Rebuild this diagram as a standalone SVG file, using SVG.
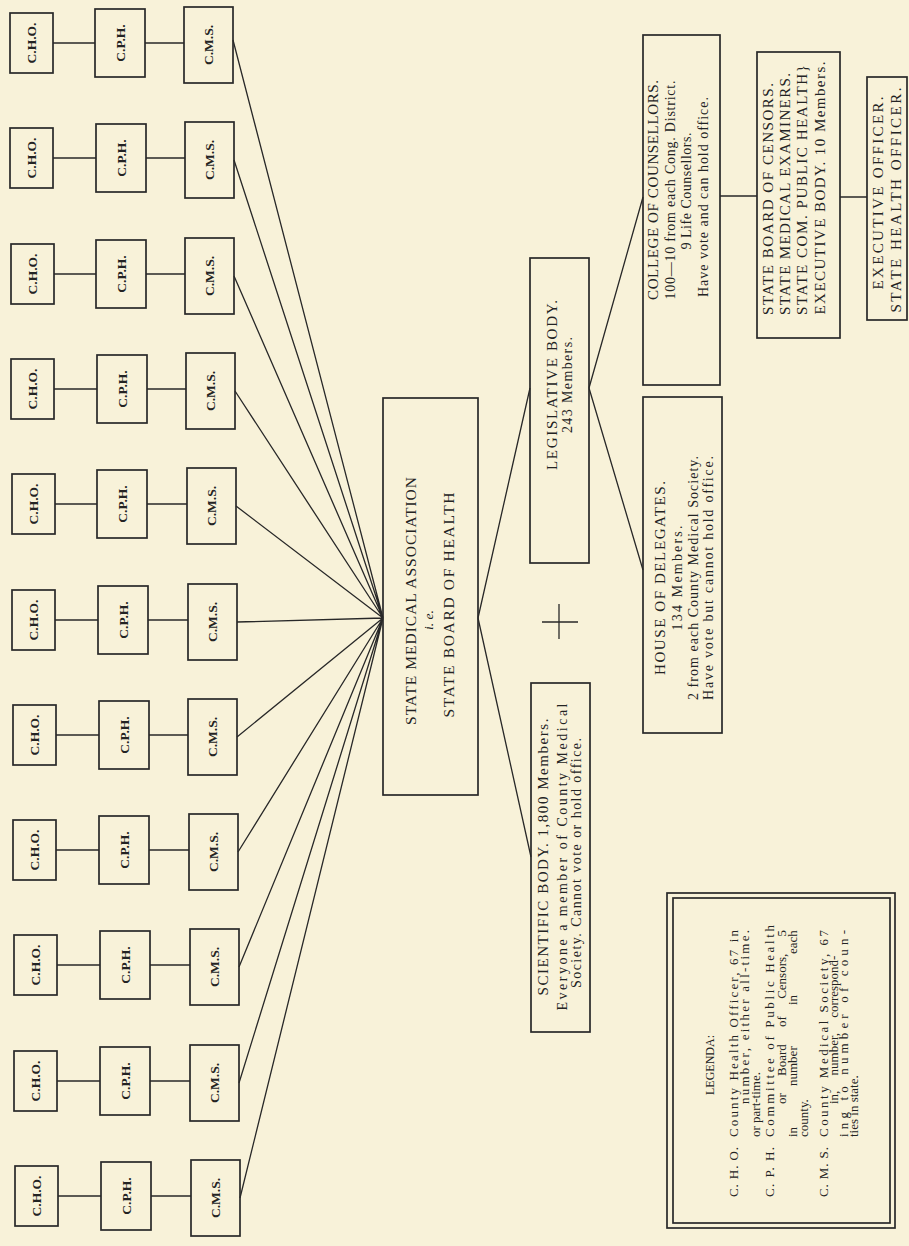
<svg xmlns="http://www.w3.org/2000/svg" width="909" height="1246" viewBox="0 0 909 1246">
<style>
.bg{fill:#f8f2d9}
.box{fill:none;stroke:#282828;stroke-width:1.7}
.ln{fill:none;stroke:#282828;stroke-width:1.3}
.t{font-family:"Liberation Serif","Times New Roman",serif;fill:#232323;dominant-baseline:central}
.m{text-anchor:middle}
.s{text-anchor:start}
.lab{font-size:13.5px;font-weight:bold}
.cap{font-size:15px}
.low{font-size:14px}
.lg{font-size:13px}
</style>
<rect class="bg" x="0" y="0" width="909" height="1246"/>
<g id="connectors">
<path class="ln" d="M53 43H95 M145 43H184 M53 158H96 M146 158H185 M54 274H96 M146 274H185 M54 389H97 M147 389H186 M55 504H97 M147 504H187 M55 620H98 M148 620H188 M56 735H99 M149 735H188 M56 850H99 M149 850H189 M57 965H100 M150 965H190 M57 1081H100 M150 1081H190 M58 1196H101 M151 1196H191"/>
<path class="ln" d="M233 40L383 618 M234 160L383 618 M234 276L383 618 M235 391L383 618 M236 506L383 618 M237 622L383 618 M237 737L383 618 M238 852L383 618 M239 967L383 618 M239 1083L383 618 M240 1198L383 618"/>
<path class="ln" d="M478 618L530 388 M478 618L531 857 M589 388L643 197 M589 388L643 570 M720 196H757 M840 197H867"/>
<path class="ln" d="M542 622H578 M559 604V639"/>
</g>
<g id="county-rows">
<g id="row-1"><rect class="box" x="10" y="13" width="43" height="60"/><rect class="box" x="95" y="9" width="50" height="68"/><rect class="box" x="184" y="7" width="49" height="76"/>
<text class="t m lab" transform="translate(31.5,43) rotate(-90)">C.H.O.</text><text class="t m lab" transform="translate(120,43) rotate(-90)">C.P.H.</text><text class="t m lab" transform="translate(208.5,45) rotate(-90)">C.M.S.</text></g>
<g id="row-2"><rect class="box" x="10" y="128" width="43" height="60"/><rect class="box" x="96" y="124" width="50" height="68"/><rect class="box" x="185" y="122" width="49" height="76"/>
<text class="t m lab" transform="translate(31.5,158) rotate(-90)">C.H.O.</text><text class="t m lab" transform="translate(121,158) rotate(-90)">C.P.H.</text><text class="t m lab" transform="translate(209.5,160) rotate(-90)">C.M.S.</text></g>
<g id="row-3"><rect class="box" x="11" y="244" width="43" height="60"/><rect class="box" x="96" y="240" width="50" height="68"/><rect class="box" x="185" y="238" width="49" height="76"/>
<text class="t m lab" transform="translate(32.5,274) rotate(-90)">C.H.O.</text><text class="t m lab" transform="translate(121,274) rotate(-90)">C.P.H.</text><text class="t m lab" transform="translate(209.5,276) rotate(-90)">C.M.S.</text></g>
<g id="row-4"><rect class="box" x="11" y="359" width="43" height="60"/><rect class="box" x="97" y="355" width="50" height="68"/><rect class="box" x="186" y="353" width="49" height="76"/>
<text class="t m lab" transform="translate(32.5,389) rotate(-90)">C.H.O.</text><text class="t m lab" transform="translate(122,389) rotate(-90)">C.P.H.</text><text class="t m lab" transform="translate(210.5,391) rotate(-90)">C.M.S.</text></g>
<g id="row-5"><rect class="box" x="12" y="474" width="43" height="60"/><rect class="box" x="97" y="470" width="50" height="68"/><rect class="box" x="187" y="468" width="49" height="76"/>
<text class="t m lab" transform="translate(33.5,504) rotate(-90)">C.H.O.</text><text class="t m lab" transform="translate(122,504) rotate(-90)">C.P.H.</text><text class="t m lab" transform="translate(211.5,506) rotate(-90)">C.M.S.</text></g>
<g id="row-6"><rect class="box" x="12" y="590" width="43" height="60"/><rect class="box" x="98" y="586" width="50" height="68"/><rect class="box" x="188" y="584" width="49" height="76"/>
<text class="t m lab" transform="translate(33.5,620) rotate(-90)">C.H.O.</text><text class="t m lab" transform="translate(123,620) rotate(-90)">C.P.H.</text><text class="t m lab" transform="translate(212.5,622) rotate(-90)">C.M.S.</text></g>
<g id="row-7"><rect class="box" x="13" y="705" width="43" height="60"/><rect class="box" x="99" y="701" width="50" height="68"/><rect class="box" x="188" y="699" width="49" height="76"/>
<text class="t m lab" transform="translate(34.5,735) rotate(-90)">C.H.O.</text><text class="t m lab" transform="translate(124,735) rotate(-90)">C.P.H.</text><text class="t m lab" transform="translate(212.5,737) rotate(-90)">C.M.S.</text></g>
<g id="row-8"><rect class="box" x="13" y="820" width="43" height="60"/><rect class="box" x="99" y="816" width="50" height="68"/><rect class="box" x="189" y="814" width="49" height="76"/>
<text class="t m lab" transform="translate(34.5,850) rotate(-90)">C.H.O.</text><text class="t m lab" transform="translate(124,850) rotate(-90)">C.P.H.</text><text class="t m lab" transform="translate(213.5,852) rotate(-90)">C.M.S.</text></g>
<g id="row-9"><rect class="box" x="14" y="935" width="43" height="60"/><rect class="box" x="100" y="931" width="50" height="68"/><rect class="box" x="190" y="929" width="49" height="76"/>
<text class="t m lab" transform="translate(35.5,965) rotate(-90)">C.H.O.</text><text class="t m lab" transform="translate(125,965) rotate(-90)">C.P.H.</text><text class="t m lab" transform="translate(214.5,967) rotate(-90)">C.M.S.</text></g>
<g id="row-10"><rect class="box" x="14" y="1051" width="43" height="60"/><rect class="box" x="100" y="1047" width="50" height="68"/><rect class="box" x="190" y="1045" width="49" height="76"/>
<text class="t m lab" transform="translate(35.5,1081) rotate(-90)">C.H.O.</text><text class="t m lab" transform="translate(125,1081) rotate(-90)">C.P.H.</text><text class="t m lab" transform="translate(214.5,1083) rotate(-90)">C.M.S.</text></g>
<g id="row-11"><rect class="box" x="15" y="1166" width="43" height="60"/><rect class="box" x="101" y="1162" width="50" height="68"/><rect class="box" x="191" y="1160" width="49" height="76"/>
<text class="t m lab" transform="translate(36.5,1196) rotate(-90)">C.H.O.</text><text class="t m lab" transform="translate(126,1196) rotate(-90)">C.P.H.</text><text class="t m lab" transform="translate(215.5,1198) rotate(-90)">C.M.S.</text></g>
</g>
<g id="state-medical-association">
<rect class="box" x="383" y="398" width="95" height="397"/>
<text class="t m" font-size="15.5" textLength="248" transform="translate(410,601) rotate(-90)">STATE MEDICAL ASSOCIATION</text>
<text class="t m" font-size="13.5" font-style="italic" transform="translate(428,620) rotate(-90)">i. e.</text>
<text class="t m" font-size="15.5" textLength="225" transform="translate(448,605) rotate(-90)">STATE BOARD OF HEALTH</text>
</g>
<g id="legislative-body">
<rect class="box" x="530" y="258" width="59" height="305"/>
<text class="t m cap" textLength="170" transform="translate(552,385) rotate(-90)">LEGISLATIVE BODY.</text>
<text class="t m low" textLength="96" transform="translate(567,385) rotate(-90)">243 Members.</text>
</g>
<g id="scientific-body">
<rect class="box" x="531" y="683" width="59" height="349"/>
<text class="t m cap" textLength="277" transform="translate(543,857) rotate(-90)">SCIENTIFIC BODY.  1,800 Members.</text>
<text class="t m low" textLength="307" transform="translate(562,857) rotate(-90)">Everyone a member of County Medical</text>
<text class="t m low" textLength="250" transform="translate(576,863) rotate(-90)">Society.  Cannot vote or hold office.</text>
</g>
<g id="college-of-counsellors">
<rect class="box" x="643" y="35" width="77" height="350"/>
<text class="t m cap" textLength="220" transform="translate(653,190) rotate(-90)">COLLEGE OF COUNSELLORS.</text>
<text class="t m low" textLength="219" transform="translate(670,190) rotate(-90)">100—10 from each Cong. District.</text>
<text class="t m low" textLength="117" transform="translate(686,191) rotate(-90)">9 Life Counsellors.</text>
<text class="t m low" textLength="200" transform="translate(703,197) rotate(-90)">Have vote and can hold office.</text>
</g>
<g id="house-of-delegates">
<rect class="box" x="643" y="397" width="79" height="336"/>
<text class="t m cap" textLength="194" transform="translate(660,578) rotate(-90)">HOUSE OF DELEGATES.</text>
<text class="t m low" textLength="105" transform="translate(677,578) rotate(-90)">134 Members.</text>
<text class="t m low" textLength="244" transform="translate(693,578) rotate(-90)">2 from each County Medical Society.</text>
<text class="t m low" textLength="244" transform="translate(708,578) rotate(-90)">Have vote but cannot hold office.</text>
</g>
<g id="state-board-of-censors">
<rect class="box" x="757" y="52" width="83" height="286"/>
<text class="t m cap" textLength="232" transform="translate(768,199) rotate(-90)">STATE BOARD OF CENSORS.</text>
<text class="t m cap" textLength="242" transform="translate(785,194) rotate(-90)">STATE MEDICAL EXAMINERS.</text>
<text class="t m cap" textLength="250" transform="translate(802,190) rotate(-90)">STATE COM. PUBLIC HEALTH}</text>
<text class="t m cap" textLength="253" transform="translate(820,188) rotate(-90)">EXECUTIVE BODY.  10 Members.</text>
</g>
<g id="executive-officer">
<rect class="box" x="867" y="77" width="40" height="243"/>
<text class="t m cap" textLength="193" transform="translate(878,193) rotate(-90)">EXECUTIVE OFFICER.</text>
<text class="t m cap" textLength="225" transform="translate(896,200) rotate(-90)">STATE HEALTH OFFICER.</text>
</g>
<g id="legend">
<rect class="box" x="667" y="893" width="228" height="335" stroke-width="2.2"/>
<rect class="box" x="673" y="898" width="217" height="325" stroke-width="1.1"/>
<text class="t m" font-size="12" transform="translate(710,1065) rotate(-90)">LEGENDA:</text>
<text class="t s lg" textLength="50" transform="translate(733,1197) rotate(-90)">C. H. O.</text>
<text class="t s lg" textLength="207" transform="translate(733,1137) rotate(-90)">County Health Officer, 67 in</text>
<text class="t s lg" textLength="174" transform="translate(744,1104) rotate(-90)">number, either all-time.</text>
<text class="t s lg" transform="translate(755,1137) rotate(-90)">or part-time.</text>
<text class="t s lg" textLength="50" transform="translate(769,1197) rotate(-90)">C. P. H.</text>
<text class="t s lg" textLength="212" transform="translate(769,1137) rotate(-90)">Committee of Public Health</text>
<text class="t s lg" word-spacing="14" transform="translate(781,1104) rotate(-90)">or Board of Censors, 5</text>
<text class="t s lg" transform="translate(792,1137) rotate(-90)"><tspan x="0">in</tspan><tspan x="51">number</tspan><tspan x="132">in</tspan><tspan x="183">each</tspan></text>
<text class="t s lg" transform="translate(803,1137) rotate(-90)">county.</text>
<text class="t s lg" textLength="50" transform="translate(823,1197) rotate(-90)">C. M. S.</text>
<text class="t s lg" textLength="207" transform="translate(823,1137) rotate(-90)">County Medical Society, 67</text>
<text class="t s lg" word-spacing="12" transform="translate(833,1104) rotate(-90)">in, number, correspond-</text>
<text class="t s lg" textLength="207" transform="translate(843,1137) rotate(-90)">ing to number of coun-</text>
<text class="t s lg" transform="translate(853,1137) rotate(-90)">ties in state.</text>
</g>
</svg>
